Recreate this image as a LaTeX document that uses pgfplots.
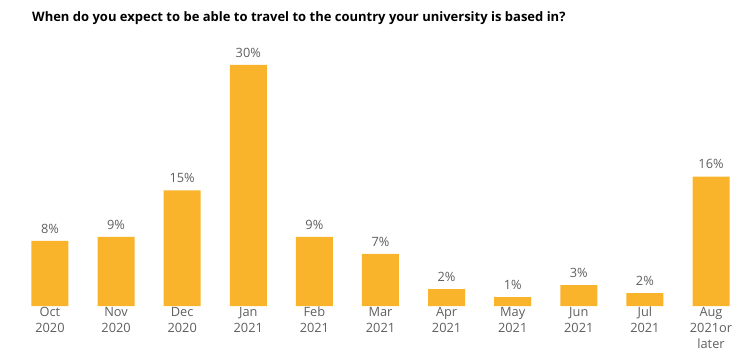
\documentclass[border=0pt]{standalone}
\usepackage{pgfplots}
\pgfplotsset{compat=1.18}
\usepackage{pgfplotstable}
\usepackage{fontspec}
\setmainfont{Open Sans}
\definecolor{barc}{RGB}{249,180,43}
\definecolor{txt}{RGB}{95,95,95}
\pgfplotstableread{
x y lab
0 8.1 8\%
1 8.6 9\%
2 14.4 15\%
3 30.0 30\%
4 8.6 9\%
5 6.5 7\%
6 2.1 2\%
7 1.1 1\%
8 2.6 3\%
9 1.6 2\%
10 16.1 16\%
}\datatable
\begin{document}
\begin{tikzpicture}[x=1bp,y=1bp]
\path[use as bounding box] (0,-50) rectangle (750,306);
\begin{axis}[
  at={(0,0)}, anchor=south west,
  scale only axis, width=750bp, height=266bp,
  xmin=-0.756, xmax=10.59, ymin=0, ymax=33.1,
  axis line style={draw=none}, ytick=\empty,
  xtick={0,...,10},
  xticklabels={{Oct\\2020},{Nov\\2020},{Dec\\2020},{Jan\\2021},{Feb\\2021},{Mar\\2021},{Apr\\2021},{May\\2021},{Jun\\2021},{Jul\\2021},{Aug\\2021or\\later}},
  xticklabel style={align=center, font=\fontsize{12.8bp}{16bp}\selectfont, text=txt, inner sep=0pt, yshift=-1bp},
  major tick length=0pt,
  clip=false,
  ybar, bar width=37bp,
  nodes near coords,
  point meta=explicit symbolic,
  every node near coord/.append style={font=\fontsize{12.8bp}{15bp}\selectfont, text=txt, anchor=south, yshift=4bp},
]
\addplot[fill=barc, draw=none] table[x=x, y=y, meta=lab] {\datatable};
\end{axis}
\node[anchor=base west, inner sep=0pt, font=\bfseries\fontsize{13bp}{15bp}\selectfont, text=black] at (32,285) {When do you expect to be able to travel to the country your university is based in?};
\end{tikzpicture}
\end{document}
